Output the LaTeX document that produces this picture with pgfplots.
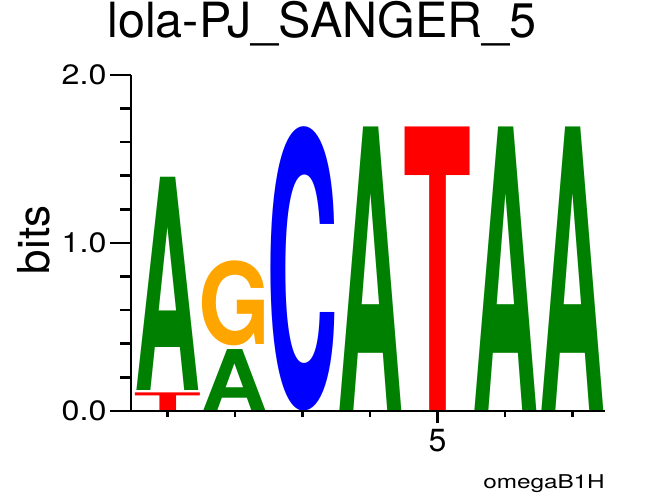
\documentclass[border=0pt]{standalone}
\usepackage{fontspec}
\setmainfont{TeX Gyre Heros}
\usepackage{graphicx}
\usepackage{pgfplots}
\pgfplotsset{compat=1.18}
\usepackage{pgfplotstable}
\definecolor{lgreen}{HTML}{008000}
\definecolor{lblue}{HTML}{0000FF}
\definecolor{lorange}{HTML}{FFA500}
\definecolor{lred}{HTML}{FF0000}

% position, bottom of letter (bits), letter height (bits)
\pgfplotstableread{
x y0 h
1 0.121 1.268
2 0.000 0.363
4 0.000 1.686
6 0.000 1.686
7 0.000 1.686
}\dataA
\pgfplotstableread{
x y0 h
3 0.000 1.686
}\dataC
\pgfplotstableread{
x y0 h
2 0.389 0.506
}\dataG
\pgfplotstableread{
x y0 h
1 0.000 0.105
5 0.000 1.686
}\dataT

\pgfplotsset{
  logo/.style n args={3}{
    only marks, mark=*, mark size=0pt, mark options={draw=none,fill=none},
    visualization depends on={168*\thisrow{h} \as \hh},
    nodes near coords={\color{#3}\resizebox*{#1}{\hh bp}{\bfseries #2}},
    every node near coord/.append style={anchor=south, inner sep=0pt, outer sep=0pt},
  },
}

\begin{document}
\begin{tikzpicture}
\path[use as bounding box] (-131bp,-85bp) rectangle (523bp,411bp);
\begin{axis}[
  scale only axis, width=474bp, height=336bp,
  xmin=0.46, xmax=7.48, ymin=0, ymax=2,
  axis x line*=bottom, axis y line*=left,
  axis line style={line width=2.6bp, -},
  tick align=outside,
  xtick=\empty,
  ytick={0,1,2},
  minor ytick={0.2,0.4,0.6,0.8,1.2,1.4,1.6,1.8},
  major tick length=21bp, minor tick length=11bp,
  every tick/.style={line width=2.6bp, black},
  yticklabel={\scalebox{1.15}[1]{\pgfmathprintnumber[fixed, fixed zerofill, precision=1, assume math mode=true]{\tick}}},
  yticklabel style={font=\fontsize{28bp}{30bp}\selectfont},
  title={lola-PJ\_SANGER\_5},
  title style={at={(rel axis cs:0.403,1.095)}, anchor=base, inner sep=0pt, font=\fontsize{48.5bp}{50bp}\selectfont},
  ylabel={bits},
  ylabel style={at={(rel axis cs:-0.171,0.509)}, anchor=base, inner sep=0pt, font=\fontsize{44bp}{46bp}\selectfont},
  clip=false,
]
\addplot[logo={66bp}{A}{lgreen}] table[x=x, y=y0] {\dataA};
\addplot[logo={72bp}{C}{lblue}] table[x=x, y=y0] {\dataC};
\addplot[logo={72bp}{G}{lorange}] table[x=x, y=y0] {\dataG};
\addplot[logo={68bp}{T}{lred}] table[x=x, y=y0] {\dataT};
\end{axis}
\begin{axis}[
  scale only axis, width=474bp, height=336bp,
  xmin=0.46, xmax=7.48, ymin=0, ymax=2,
  axis x line*=bottom, axis y line=none,
  axis line style={line width=2.6bp, -},
  tick align=outside,
  xtick={5}, minor xtick={1,2,3,4,6,7},
  ytick=\empty,
  major tick length=12bp, minor tick length=6bp,
  every tick/.style={line width=2.6bp, black},
  xticklabel={\fontsize{32bp}{34bp}\selectfont\pgfmathprintnumber[assume math mode=true]{\tick}},
  xticklabel style={inner sep=0pt, yshift=-6bp},
  xlabel={\scalebox{1.28}[1]{omegaB1H}},
  xlabel style={at={(rel axis cs:1,-0.232)}, anchor=base east, inner sep=0pt, font=\fontsize{19bp}{20bp}\selectfont},
]
\end{axis}
\end{tikzpicture}
\end{document}
